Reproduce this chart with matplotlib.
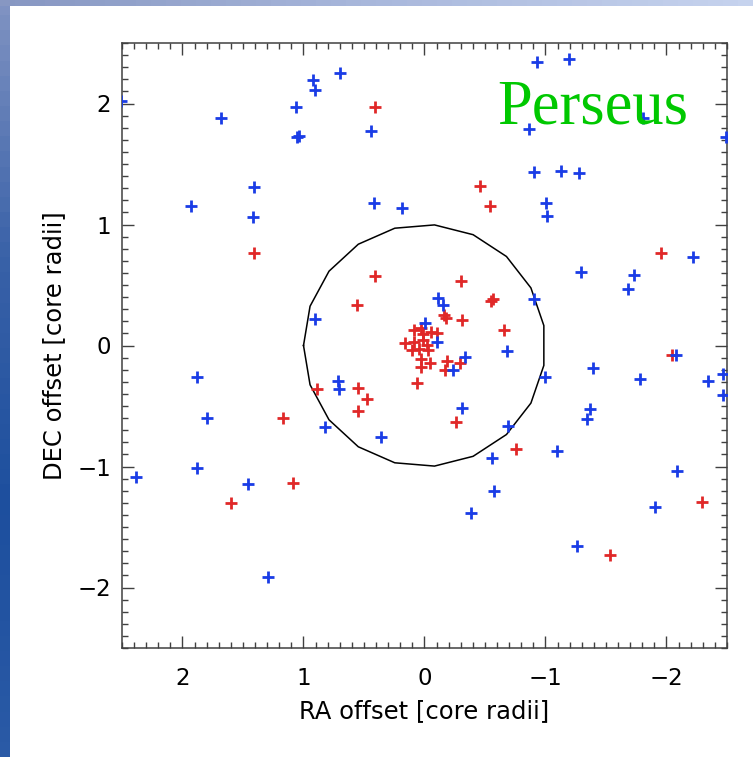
import numpy as np
import matplotlib
matplotlib.use("Agg")
import matplotlib.pyplot as plt
from matplotlib.ticker import MultipleLocator

# galaxy positions, blue population (RA, DEC offsets in core radii)
blue_ra = [2.51, 1.682, 1.065, 1.051, 1.04, 0.919, 0.908, 0.698, 0.442, 1.409,
           1.415, 1.930, 0.420, 0.183, 0.905, -0.927, -1.194, -0.864, -1.808, -2.49,
           -0.908, -1.128, -1.277, -1.001, -1.015, -1.296, -1.729, -1.685, -2.222, -0.908,
           -0.114, -0.155, -0.004, -0.106, -0.682, -0.335, -0.233, -0.996, -1.39, -1.781,
           -2.079, -2.345, -2.464, -2.47, -0.307, -0.688, -1.368, -1.34, -1.098, -0.555,
           -0.574, -0.382, -2.084, -1.908, -1.258, 1.878, 1.80, 1.878, 2.384, 1.456,
           1.291, 0.717, 0.704, 0.822, 0.362]
blue_dec = [2.02, 1.878, 1.969, 1.72, 1.73, 2.194, 2.112, 2.25, 1.773, 1.312,
            1.064, 1.155, 1.180, 1.134, 0.221, 2.346, 2.365, 1.787, 1.878, 1.726,
            1.431, 1.445, 1.428, 1.180, 1.070, 0.605, 0.580, 0.469, 0.734, 0.383,
            0.394, 0.332, 0.184, 0.027, -0.045, -0.093, -0.203, -0.258, -0.189, -0.277,
            -0.081, -0.291, -0.238, -0.409, -0.514, -0.663, -0.527, -0.61, -0.872, -0.932,
            -1.2, -1.382, -1.035, -1.335, -1.654, -0.263, -0.602, -1.015, -1.089, -1.147,
            -1.911, -0.291, -0.362, -0.671, -0.754]

# red population
red_ra = [0.409, 1.409, 0.409, 0.561, -0.459, -0.541, -1.955, -0.299, -0.550, -0.565,
          -0.16, -0.175, -0.312, -0.657, 0.891, 1.167, 0.552, 0.478, 0.552, 1.084,
          1.602, 0.060, -0.26, -0.754, -2.043, -2.291, -1.533, 0.086, 0.031, 0.009,
          -0.052, -0.101, 0.161, 0.084, 0.010, -0.018, 0.107, 0.047, -0.030, 0.025,
          -0.044, 0.025, -0.19, -0.17, -0.293]
red_dec = [1.974, 0.767, 0.574, 0.332, 1.321, 1.155, 0.762, 0.531, 0.370, 0.385,
           0.248, 0.225, 0.212, 0.126, -0.362, -0.602, -0.354, -0.445, -0.539, -1.134,
           -1.304, -0.31, -0.635, -0.853, -0.081, -1.291, -1.731, 0.130, 0.146, 0.097,
           0.110, 0.102, 0.018, 0.031, 0.045, 0.004, -0.037, -0.031, -0.037, -0.114,
           -0.147, -0.175, -0.125, -0.2, -0.143]

core_radius = 1.0
n_circle = 19

W, H = 753, 757
fig = plt.figure(figsize=(W / 100, H / 100), dpi=100)
fig.patch.set_facecolor("white")

# slide background strips (left and top)
left = fig.add_axes([0, 0, 10 / W, 1])
left.imshow(np.linspace(0, 1, 50)[:, None], aspect="auto", cmap=matplotlib.colors.LinearSegmentedColormap.from_list(
    "l", ["#7f92c2", "#3a62a8", "#1d4f9e", "#2a5aa6"]))
left.axis("off")
top = fig.add_axes([0, 1 - 6 / H, 1, 6 / H])
top.imshow(np.linspace(0, 1, 50)[None, :], aspect="auto", cmap=matplotlib.colors.LinearSegmentedColormap.from_list(
    "t", ["#8797c2", "#a9b8dc", "#c6d3ee"]))
top.axis("off")

ax = fig.add_axes([122 / W, (H - 648) / H, 605 / W, 605 / H])

theta = np.linspace(0, 2 * np.pi, n_circle + 1)
ax.plot(core_radius * np.cos(theta), core_radius * np.sin(theta), color="black", lw=1.1, zorder=2)

ax.plot(red_ra, red_dec, "+", color="#e02828", ms=8.5, mew=2.0, zorder=3)
ax.plot(blue_ra, blue_dec, "+", color="#1a3ce6", ms=8.5, mew=2.0, zorder=4)

ax.set_xlim(2.5, -2.5)
ax.set_ylim(-2.5, 2.5)
ax.xaxis.set_major_locator(MultipleLocator(1))
ax.xaxis.set_minor_locator(MultipleLocator(0.1))
ax.yaxis.set_major_locator(MultipleLocator(1))
ax.yaxis.set_minor_locator(MultipleLocator(0.1))
ax.tick_params(which="both", direction="in", top=True, right=True, color="#404040", width=1.0)
ax.tick_params(which="major", length=8.6, labelsize=16.5)
ax.tick_params(axis="x", which="major", pad=14)
ax.tick_params(axis="y", which="major", pad=8)
ax.tick_params(which="minor", length=4.3)
for s in ax.spines.values():
    s.set_color("#404040")
    s.set_linewidth(1.1)

ax.set_xlabel("RA offset [core radii]", fontsize=17.5, labelpad=6)
ax.set_ylabel("DEC offset [core radii]", fontsize=17.5, labelpad=8)

ax.text(0.62, 0.867, "Perseus", transform=ax.transAxes, family="Liberation Serif",
        fontsize=45, color="#00c800", ha="left", va="baseline", zorder=5)

fig.savefig("out.png", dpi=100)
